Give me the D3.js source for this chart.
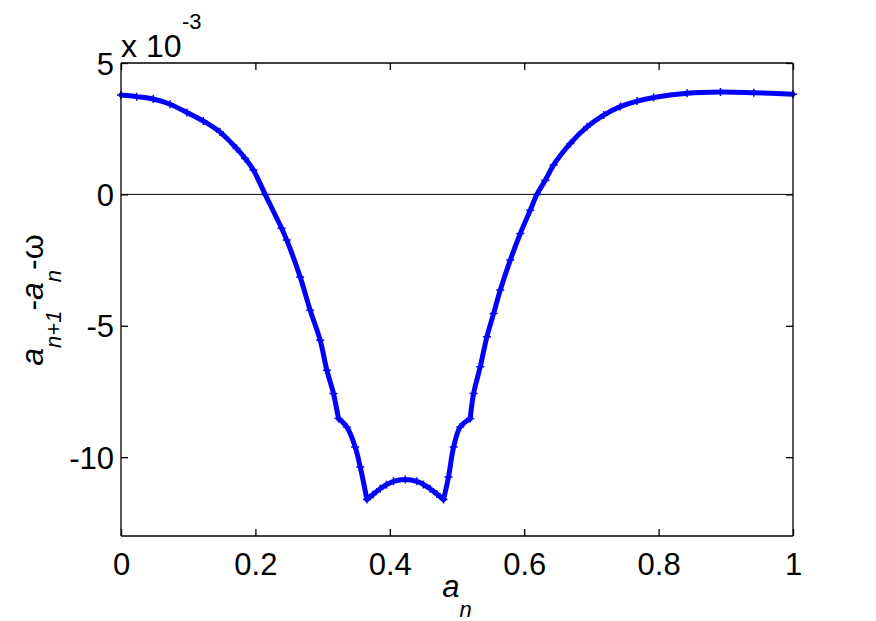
<!DOCTYPE html>
<html>
<head>
<meta charset="utf-8">
<script src="https://cdn.jsdelivr.net/npm/d3@7"></script>
<style>
  html, body { margin: 0; padding: 0; background: #fff; }
  svg { display: block; }
  text { font-family: "Liberation Sans", Arial, Helvetica, sans-serif; fill: #000; }
</style>
</head>
<body>
<svg id="chart" width="876" height="621"></svg>
<script>
// ---- data (y values in units of 1e-3) ----
const anValues = [0.000, 0.0233, 0.048, 0.073, 0.098, 0.1226, 0.147, 0.172, 0.1847, 0.197, 0.2145, 0.239, 0.2467,
  0.2666, 0.2815, 0.2964, 0.3063, 0.3162, 0.3236, 0.336, 0.3485, 0.356, 0.366, 0.375, 0.3857, 0.395, 0.4055,
  0.423, 0.4403, 0.450, 0.460, 0.470, 0.480, 0.4874, 0.495, 0.5048, 0.5197, 0.5247, 0.5346, 0.5445, 0.5545,
  0.5644, 0.5793, 0.5942, 0.609, 0.619, 0.6314, 0.6438, 0.6687, 0.6935, 0.7183, 0.7431, 0.768, 0.7927,
  0.8424, 0.892, 0.9416, 1.000];
const diffValues = [3.78, 3.72, 3.63, 3.43, 3.12, 2.79, 2.38, 1.75, 1.37, 0.93, 0.00, -1.29, -1.74,
  -3.14, -4.41, -5.55, -6.69, -7.58, -8.53, -8.85, -9.61, -10.37, -11.61, -11.42, -11.20, -11.05, -10.92,
  -10.85, -10.92, -11.04, -11.20, -11.40, -11.61, -10.75, -9.61, -8.85, -8.53, -7.58, -6.56, -5.42, -4.53,
  -3.64, -2.50, -1.49, -0.60, 0.00, 0.54, 1.12, 1.94, 2.57, 3.02, 3.34, 3.55, 3.69,
  3.85, 3.90, 3.87, 3.81];
// indices where the curve has a kink (segments are smoothed between them)
const kinkIndices = [0, 18, 22, 32, 36, 57];
const xTicks = [0, 0.2, 0.4, 0.6, 0.8, 1];
const xTickLabels = ["0", "0.2", "0.4", "0.6", "0.8", "1"];
const yTicks = [5, 0, -5, -10];
const yTickLabels = ["5", "0", "-5", "-10"];
const xDomain = [0, 1];
const yDomain = [-13, 5];

const svg = d3.select("#chart");
const L = 121, T = 63, R = 793, B = 536;
const x = d3.scaleLinear().domain(xDomain).range([L, R]);
const y = d3.scaleLinear().domain(yDomain).range([B, T]);

const pts = anValues.map((v, i) => [v, diffValues[i]]);

// zero line
svg.append("line")
  .attr("x1", L).attr("x2", R).attr("y1", y(0)).attr("y2", y(0))
  .attr("stroke", "#000").attr("stroke-width", 1);

// curve: smooth segments between kinks
const g = svg.append("g");
const line = d3.line().x(d => x(d[0])).y(d => y(d[1])).curve(d3.curveCatmullRom.alpha(0.5));
for (let k = 0; k < kinkIndices.length - 1; k++) {
  const seg = pts.slice(kinkIndices[k], kinkIndices[k + 1] + 1);
  g.append("path")
    .datum(seg)
    .attr("d", line)
    .attr("fill", "none").attr("stroke", "#0000ff").attr("stroke-width", 5)
    .attr("stroke-linejoin", "round").attr("stroke-linecap", "round");
}
g.selectAll("path.mk").data(pts).enter().append("path")
  .attr("class", "mk")
  .attr("transform", d => `translate(${x(d[0])},${y(d[1])})`)
  .attr("d", "M-4,0H4M0,-4V4")
  .attr("stroke", "#0000ff").attr("stroke-width", 1.5);

// axes (box with inward ticks)
const tickLen = 7;
const axB = svg.append("g").attr("transform", `translate(0,${B})`)
  .call(d3.axisBottom(x).tickValues(xTicks).tickSize(-tickLen).tickPadding(17)
    .tickFormat((d, i) => xTickLabels[i]));
const axT = svg.append("g").attr("transform", `translate(0,${T})`)
  .call(d3.axisTop(x).tickValues(xTicks).tickSize(-tickLen).tickFormat(""));
const axL = svg.append("g").attr("transform", `translate(${L},0)`)
  .call(d3.axisLeft(y).tickValues(yTicks).tickSize(-tickLen).tickPadding(7)
    .tickFormat((d, i) => yTickLabels[i]));
const axR = svg.append("g").attr("transform", `translate(${R},0)`)
  .call(d3.axisRight(y).tickValues(yTicks).tickSize(-tickLen).tickFormat(""));
[axB, axT, axL, axR].forEach(a => {
  a.selectAll(".domain").attr("stroke", "#000").attr("stroke-width", 1.3);
  a.selectAll(".tick line").attr("stroke", "#000").attr("stroke-width", 1.3);
  a.selectAll("text").attr("font-size", 31).attr("font-family", "'Liberation Sans', Arial, sans-serif").attr("fill", "#000");
});
[axB, axT].forEach(a => a.select(".domain").attr("d", `M${L},0H${R}`));
[axL, axR].forEach(a => a.select(".domain").attr("d", `M0,${T}V${B}`));
axL.selectAll(".tick text").attr("dy", "0.36em");

// exponent label
svg.append("text").attr("x", L).attr("y", 57).attr("font-size", 32).text("x 10");
svg.append("text").attr("x", 182).attr("y", 29).attr("font-size", 22).text("-3");

// x label
const xl = svg.append("text").attr("x", (L + R) / 2).attr("y", 597)
  .attr("text-anchor", "middle").attr("font-size", 31);
xl.append("tspan").attr("font-style", "italic").text("a");
xl.append("tspan").attr("font-style", "italic").attr("font-size", 22).attr("dy", 20).text("n");

// y label
const yl = svg.append("text").attr("transform", "translate(43,300) rotate(-90)")
  .attr("text-anchor", "middle").attr("font-size", 32);
yl.append("tspan").attr("font-style", "italic").text("a");
yl.append("tspan").attr("font-style", "italic").attr("font-size", 22).attr("dy", 18).text("n+1");
yl.append("tspan").attr("dy", -18).text("-");
yl.append("tspan").attr("font-style", "italic").text("a");
yl.append("tspan").attr("font-style", "italic").attr("font-size", 22).attr("dy", 18).text("n");
yl.append("tspan").attr("dy", -18).text("-ω");
</script>
</body>
</html>
